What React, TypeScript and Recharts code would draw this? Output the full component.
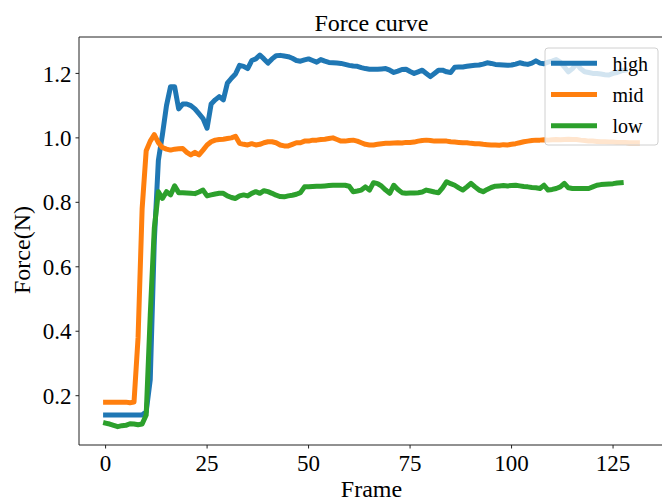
import React from "react";
import { LineChart, Line, XAxis, YAxis, ReferenceLine } from "recharts";

// Force readings per frame
const highForce = [
  0.14, 0.14, 0.14, 0.14, 0.14, 0.14, 0.14, 0.14, 0.14, 0.14,
  0.15, 0.25, 0.68, 0.93, 1.01, 1.1, 1.159, 1.159, 1.09, 1.105,
  1.105, 1.1, 1.09, 1.075, 1.06, 1.03, 1.105, 1.118, 1.128, 1.118,
  1.17, 1.185, 1.198, 1.225, 1.222, 1.215, 1.24, 1.245, 1.257, 1.245,
  1.232, 1.245, 1.255, 1.256, 1.254, 1.252, 1.247, 1.24, 1.238, 1.242,
  1.245, 1.24, 1.235, 1.243, 1.238, 1.234, 1.233, 1.232, 1.231, 1.228,
  1.225, 1.223, 1.222, 1.218, 1.215, 1.213, 1.213, 1.213, 1.214, 1.215,
  1.21, 1.203, 1.207, 1.212, 1.213, 1.206, 1.2, 1.205, 1.21, 1.2,
  1.19, 1.2, 1.21, 1.21, 1.205, 1.203, 1.219, 1.22, 1.22, 1.222,
  1.224, 1.225, 1.226, 1.229, 1.233, 1.231, 1.228, 1.227, 1.226, 1.225,
  1.226, 1.229, 1.233, 1.23, 1.228, 1.232, 1.239, 1.232, 1.23, 1.235,
  1.238, 1.243, 1.235, 1.22, 1.205, 1.215, 1.23, 1.215, 1.205, 1.203,
  1.2, 1.2, 1.198, 1.196, 1.195, 1.2, 1.203, 1.208, 1.21,
];

const midForce = [
  0.18, 0.18, 0.18, 0.18, 0.18, 0.18, 0.178, 0.18, 0.38, 0.78,
  0.96, 0.99, 1.01, 0.985, 0.97, 0.965, 0.962, 0.965, 0.966, 0.967,
  0.955, 0.947, 0.955, 0.947, 0.962, 0.978, 0.988, 0.993, 0.995, 0.996,
  0.998, 1.0, 1.005, 0.983, 0.98, 0.978, 0.982, 0.978, 0.98, 0.985,
  0.988, 0.988, 0.985, 0.978, 0.975, 0.975, 0.98, 0.985, 0.985, 0.99,
  0.99, 0.993, 0.993, 0.995, 0.996, 0.998, 1.0, 0.995, 0.99, 0.99,
  0.992, 0.993, 0.99, 0.985, 0.98, 0.978, 0.978, 0.98, 0.982, 0.983,
  0.983, 0.984, 0.985, 0.984, 0.986, 0.986, 0.987, 0.99, 0.992, 0.993,
  0.992, 0.99, 0.99, 0.99, 0.99, 0.988, 0.987, 0.986, 0.985, 0.985,
  0.983, 0.982, 0.982, 0.98, 0.979, 0.978, 0.978, 0.977, 0.979, 0.978,
  0.98, 0.982, 0.985, 0.988, 0.99, 0.992, 0.993, 0.993, 0.994, 0.993,
  0.994, 0.995, 0.994, 0.995, 0.996, 0.995, 0.995, 0.993, 0.992, 0.99,
  0.99, 0.989, 0.988, 0.988, 0.987, 0.987, 0.986, 0.986, 0.986, 0.985,
  0.985, 0.985,
];

const lowForce = [
  0.115, 0.112, 0.108, 0.104, 0.107, 0.108, 0.113, 0.112, 0.11, 0.112,
  0.14, 0.45, 0.72, 0.833, 0.812, 0.833, 0.823, 0.851, 0.83, 0.83,
  0.829, 0.828, 0.827, 0.832, 0.838, 0.82, 0.823, 0.826, 0.828, 0.828,
  0.82, 0.815, 0.812, 0.82, 0.823, 0.82, 0.828, 0.833, 0.828, 0.836,
  0.833, 0.828, 0.822, 0.818, 0.817, 0.82, 0.822, 0.825, 0.83, 0.848,
  0.848, 0.849, 0.85, 0.85, 0.851, 0.852, 0.853, 0.853, 0.853, 0.853,
  0.85, 0.833, 0.835, 0.838, 0.848, 0.838, 0.861, 0.858, 0.85, 0.838,
  0.828, 0.853, 0.84, 0.83, 0.828, 0.829, 0.829, 0.83, 0.832, 0.838,
  0.835, 0.832, 0.83, 0.845, 0.864, 0.858, 0.853, 0.845, 0.838, 0.848,
  0.859, 0.848, 0.838, 0.833, 0.84, 0.846, 0.85, 0.851, 0.852, 0.851,
  0.852, 0.853, 0.851, 0.849, 0.848, 0.846, 0.845, 0.843, 0.853, 0.838,
  0.84, 0.843, 0.848, 0.859, 0.845, 0.843, 0.843, 0.843, 0.843, 0.843,
  0.848, 0.853, 0.855, 0.856, 0.857, 0.858, 0.86, 0.861,
];

const xTicks = [0, 25, 50, 75, 100, 125];
const yTicks = [0.2, 0.4, 0.6, 0.8, 1.0, 1.2];

const seriesNames = ["high", "mid", "low"];
const seriesColors = ["#1f77b4", "#ff7f0e", "#2ca02c"];

const frameCount = Math.max(highForce.length, midForce.length, lowForce.length);
const data = Array.from({ length: frameCount }, (_, frame) => ({
  frame,
  high: highForce[frame],
  mid: midForce[frame],
  low: lowForce[frame],
}));

const FONT = "Liberation Serif, Times New Roman, serif";
const X_DOMAIN: [number, number] = [-6.55, 137.55];
const Y_DOMAIN: [number, number] = [0.047, 1.313];

export default function App() {
  const tickStyle = { fill: "#000", fontSize: 23, fontFamily: FONT };

  return (
    <div
      style={{
        position: "absolute",
        left: 0,
        top: 0,
        width: 662,
        height: 501,
        overflow: "hidden",
        background: "#fff",
        fontFamily: FONT,
      }}
    >
      <style>{`.recharts-cartesian-axis-tick-value, .recharts-text { font-family: ${FONT}; }`}</style>
      <LineChart
        width={680}
        height={501}
        data={data}
        margin={{ top: 37, right: 16, bottom: 26, left: 19 }}
        style={{ fontFamily: FONT }}
      >
        <XAxis
          dataKey="frame"
          type="number"
          domain={X_DOMAIN}
          ticks={xTicks}
          allowDataOverflow
          height={30}
          tick={tickStyle}
          tickSize={3.5}
          tickMargin={6}
          stroke="#222"
          axisLine={{ stroke: "#222", strokeWidth: 1 }}
          tickLine={{ stroke: "#222" }}
        />
        <YAxis
          type="number"
          domain={Y_DOMAIN}
          ticks={yTicks}
          allowDataOverflow
          width={60}
          tick={tickStyle}
          tickSize={3.5}
          tickMargin={4}
          tickFormatter={(v: number) => v.toFixed(1)}
          axisLine={{ stroke: "#222", strokeWidth: 1 }}
          tickLine={{ stroke: "#222" }}
        />
        <ReferenceLine y={Y_DOMAIN[1]} stroke="#222" strokeWidth={1} />
        {seriesNames.map((name, i) => (
          <Line
            key={name}
            dataKey={name}
            stroke={seriesColors[i]}
            strokeWidth={5}
            strokeLinecap="square"
            strokeLinejoin="round"
            dot={false}
            activeDot={false}
            isAnimationActive={false}
          />
        ))}
      </LineChart>

      <svg
        width={662}
        height={501}
        style={{ position: "absolute", left: 0, top: 0, pointerEvents: "none" }}
        fontFamily={FONT}
      >
        <text x={371.5} y={31} textAnchor="middle" fontSize={24} fill="#000">
          Force curve
        </text>
        <text x={371.5} y={497} textAnchor="middle" fontSize={24} fill="#000">
          Frame
        </text>
        <text
          x={0}
          y={0}
          transform="translate(30,250) rotate(-90)"
          textAnchor="middle"
          fontSize={24}
          fill="#000"
        >
          Force(N)
        </text>

        <rect
          x={545}
          y={48}
          width={113}
          height={97}
          rx={3}
          fill="rgba(255,255,255,0.8)"
          stroke="#d0d0d0"
          strokeWidth={1}
        />
        {seriesNames.map((name, i) => {
          const ly = 63.3 + i * 31.2;
          return (
            <g key={name}>
              <line
                x1={551}
                x2={597}
                y1={ly}
                y2={ly}
                stroke={seriesColors[i]}
                strokeWidth={5}
              />
              <text x={612.5} y={ly + 7.5} fontSize={20} fill="#000">
                {name}
              </text>
            </g>
          );
        })}
      </svg>
    </div>
  );
}
